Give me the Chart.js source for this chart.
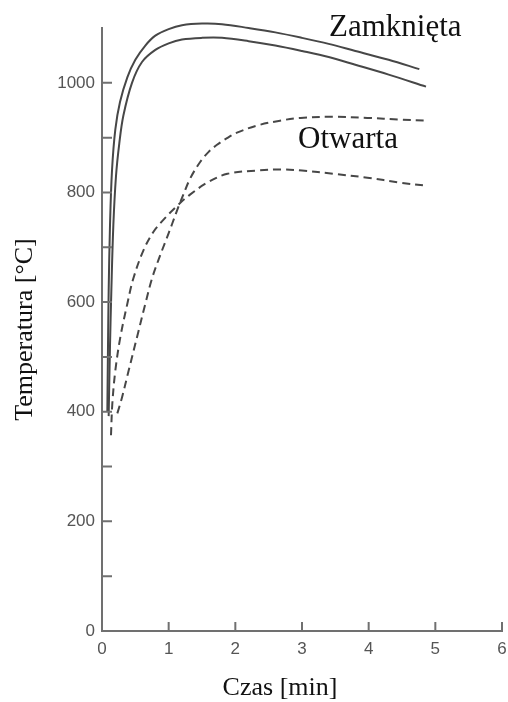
<!DOCTYPE html>
<html lang="pl">
<head>
<meta charset="UTF-8">
<title>Temperatura - Zamknięta / Otwarta</title>
<script src="https://cdn.jsdelivr.net/npm/chart.js"></script>
<style>
  html, body { margin: 0; padding: 0; background: #fff; }
  .wrap { width: 508px; height: 702px; position: relative; }
</style>
</head>
<body>
<div class="wrap"><canvas id="chart"></canvas></div>
<script>
// solid curves (Zamknięta)
const closedUpperX = [0.08, 0.09, 0.1, 0.12, 0.15, 0.2, 0.27, 0.38, 0.5, 0.65, 0.8, 1.0, 1.2, 1.5, 1.8, 2.2, 2.6, 3.0, 3.4, 3.8, 4.3, 4.76];
const closedUpperY = [400, 520, 620, 740, 840, 915, 965, 1010, 1042, 1068, 1086, 1098, 1105, 1108, 1107, 1100, 1092, 1082, 1071, 1058, 1042, 1025];
const closedLowerX = [0.1, 0.12, 0.14, 0.17, 0.21, 0.26, 0.32, 0.45, 0.6, 0.8, 1.0, 1.2, 1.5, 1.8, 2.2, 2.6, 3.0, 3.4, 3.8, 4.3, 4.86];
const closedLowerY = [392, 520, 620, 740, 830, 890, 940, 1000, 1038, 1060, 1072, 1079, 1082, 1082, 1076, 1068, 1058, 1047, 1033, 1015, 993];

// dashed curves (Otwarta)
const openUpperX = [0.23, 0.3, 0.4, 0.525, 0.65, 0.75, 0.85, 0.95, 1.05, 1.125, 1.2, 1.325, 1.475, 1.6, 1.725, 1.875, 2.025, 2.325, 2.67, 2.98, 3.47, 3.98, 4.47, 4.88];
const openUpperY = [397, 426, 475, 536, 597, 643, 678, 710, 742, 767, 790, 826, 856, 874, 887, 899, 909, 922, 931, 936, 938, 936, 933, 931];
const openLowerX = [0.135, 0.155, 0.2, 0.275, 0.38, 0.47, 0.62, 0.77, 0.92, 1.13, 1.32, 1.58, 1.88, 2.33, 2.7, 3.0, 3.47, 3.98, 4.47, 4.88];
const openLowerY = [357, 415, 475, 536, 597, 643, 694, 728, 750, 776, 796, 818, 834, 840, 842, 840, 834, 827, 818, 812];

const xTickValues = [0, 1, 2, 3, 4, 5, 6];
const yLabelValues = [0, 200, 400, 600, 800, 1000];

const curveLabels = ['Zamknięta', 'Otwarta'];
const curveLabelX = [4.4, 3.69];
const curveLabelY = [1086, 882];

const xTitle = 'Czas [min]';
const yTitle = 'Temperatura [°C]';

const lineColor = '#474747';
const axisColor = '#707070';
const serif = "'Liberation Serif', 'Times New Roman', serif";
const sans = "'Liberation Sans', Arial, sans-serif";

function toPoints(xs, ys) {
    return xs.map((v, i) => ({ x: v, y: ys[i] }));
}

function curve(xs, ys, dashed) {
    return {
        data: toPoints(xs, ys),
        borderColor: lineColor,
        borderWidth: 2,
        borderDash: dashed ? [8, 5] : [],
        pointRadius: 0,
        fill: false,
        clip: false,
        tension: 0.35
    };
}

// tick marks point into the plot, like the original figure
const inwardTicks = {
    id: 'inwardTicks',
    afterDatasetsDraw(chart) {
        const { ctx, scales: { x, y } } = chart;
        ctx.save();
        ctx.strokeStyle = axisColor;
        ctx.lineWidth = 2;
        ctx.beginPath();
        x.ticks.forEach((t, i) => {
            const px = x.getPixelForTick(i);
            ctx.moveTo(px, x.top);
            ctx.lineTo(px, x.top - 9);
        });
        y.ticks.forEach((t, i) => {
            if (t.value > 1000) return;
            const py = y.getPixelForTick(i);
            ctx.moveTo(y.right, py);
            ctx.lineTo(y.right + 10, py);
        });
        ctx.stroke();

        ctx.fillStyle = '#111';
        ctx.textAlign = 'center';
        ctx.textBaseline = 'alphabetic';
        ctx.font = '31px ' + serif;
        curveLabels.forEach((txt, i) => {
            ctx.fillText(txt, x.getPixelForValue(curveLabelX[i]), y.getPixelForValue(curveLabelY[i]));
        });

        ctx.font = '26px ' + serif;
        ctx.fillText(xTitle, x.getPixelForValue(2.67), 695);
        ctx.restore();
    }
};

new Chart(document.getElementById('chart'), {
    type: 'line',
    data: {
        datasets: [
            curve(closedUpperX, closedUpperY, false),
            curve(closedLowerX, closedLowerY, false),
            curve(openUpperX, openUpperY, true),
            curve(openLowerX, openLowerY, true)
        ]
    },
    options: {
        responsive: true,
        maintainAspectRatio: false,
        animation: false,
        layout: { padding: { top: 28, right: 6, left: 0, bottom: 0 } },
        plugins: { legend: { display: false }, tooltip: { enabled: false } },
        scales: {
            x: {
                type: 'linear',
                min: 0,
                max: 6,
                afterBuildTicks: (s) => { s.ticks = xTickValues.map(v => ({ value: v })); },
                afterFit: (s) => { s.height = 71; s.paddingLeft = 0; s.paddingRight = 0; },
                grid: { drawOnChartArea: false, drawTicks: false },
                border: { color: axisColor, width: 2 },
                ticks: {
                    padding: 8,
                    color: '#555',
                    font: { family: sans, size: 17 }
                }
            },
            y: {
                min: 0,
                max: 1100,
                afterFit: (s) => { s.width = 102; },
                grid: { drawOnChartArea: false, drawTicks: false },
                border: { color: axisColor, width: 2 },
                ticks: {
                    stepSize: 100,
                    autoSkip: false,
                    padding: 7,
                    color: '#555',
                    font: { family: sans, size: 17 },
                    callback: (v) => yLabelValues.includes(v) ? String(v) : ''
                },
                title: {
                    display: true,
                    text: yTitle,
                    color: '#111',
                    font: { family: serif, size: 26 },
                    padding: { top: 10, bottom: 0 }
                }
            }
        }
    },
    plugins: [inwardTicks]
});
</script>
</body>
</html>
